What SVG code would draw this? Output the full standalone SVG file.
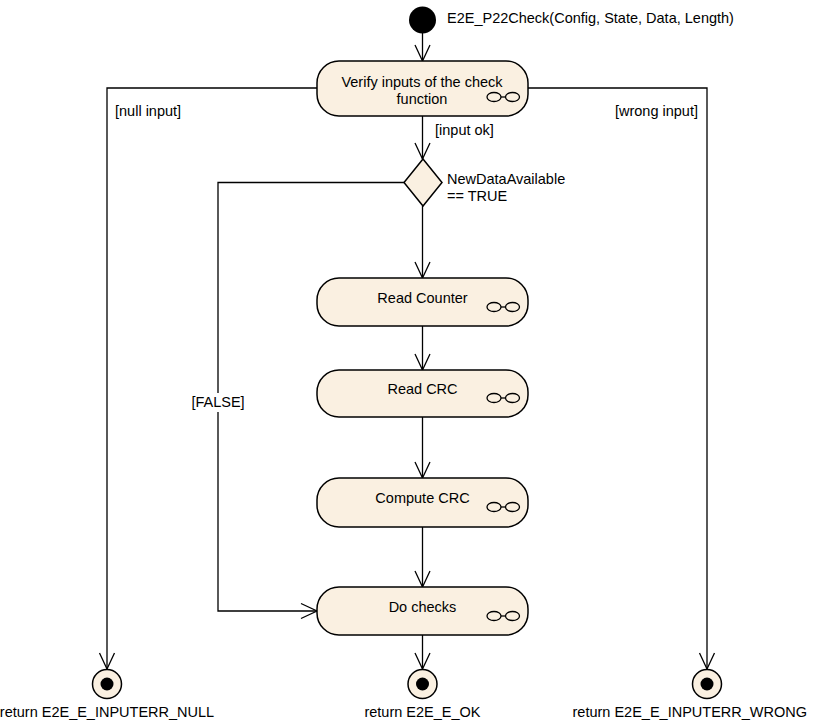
<svg xmlns="http://www.w3.org/2000/svg" width="814" height="722" viewBox="0 0 814 722">
<defs>
<style>
text{font-family:"Liberation Sans",Arial,sans-serif;font-size:14.5px;fill:#000}
.mid{text-anchor:middle}
.act{fill:#FAF0E1;stroke:#000;stroke-width:1.5}
.ico{fill:none;stroke:#000;stroke-width:1.3}
.edge{fill:none;stroke:#000;stroke-width:1.3}
</style>
<marker id="arr" viewBox="-17 -9 19 18" refX="0" refY="0" markerWidth="19" markerHeight="18" markerUnits="userSpaceOnUse" orient="auto">
<path d="M-16,-7.5 L0,0 L-16,7.5" fill="none" stroke="#000" stroke-width="1.3"/>
</marker>
<g id="rake">
<ellipse cx="-9" cy="0" rx="7" ry="4.5" class="ico"/>
<ellipse cx="9.5" cy="0" rx="7" ry="4.5" class="ico"/>
<line x1="-2" y1="0" x2="2.5" y2="0" class="ico"/>
</g>
</defs>
<rect width="814" height="722" fill="#fff"/>

<g id="connectors">
<line class="edge" x1="422.5" y1="33" x2="422.5" y2="61" marker-end="url(#arr)"/>
<polyline class="edge" points="317,88 107,88 107,669" marker-end="url(#arr)"/>
<polyline class="edge" points="528,88 707,88 707,669" marker-end="url(#arr)"/>
<line class="edge" x1="422.5" y1="116" x2="422.5" y2="159" marker-end="url(#arr)"/>
<polyline class="edge" points="404,182.5 218,182.5 218,611 317,611" marker-end="url(#arr)"/>
<line class="edge" x1="422.5" y1="206" x2="422.5" y2="278" marker-end="url(#arr)"/>
<line class="edge" x1="422.5" y1="326" x2="422.5" y2="370" marker-end="url(#arr)"/>
<line class="edge" x1="422.5" y1="417" x2="422.5" y2="478" marker-end="url(#arr)"/>
<line class="edge" x1="422.5" y1="527" x2="422.5" y2="587" marker-end="url(#arr)"/>
<line class="edge" x1="422.5" y1="635" x2="422.5" y2="669" marker-end="url(#arr)"/>
<text x="115" y="116">[null input]</text>
<text x="698" y="116" text-anchor="end">[wrong input]</text>
<text x="435" y="135">[input ok]</text>
<rect x="189" y="393" width="58" height="19" fill="#fff"/>
<text x="218" y="407" class="mid">[FALSE]</text>
</g>

<g id="start">
<circle cx="422.5" cy="20" r="13.5" fill="#000"/>
<text x="447" y="23">E2E_P22Check(Config, State, Data, Length)</text>
</g>

<g id="verify">
<rect class="act" x="317" y="61" width="211" height="55" rx="22" ry="22"/>
<text x="422" y="87" class="mid">Verify inputs of the check</text>
<text x="422" y="104" class="mid">function</text>
<use href="#rake" x="503" y="97"/>
</g>

<g id="decision">
<polygon class="act" points="423,159 442,182.5 423,206 404,182.5"/>
<text x="447" y="184">NewDataAvailable</text>
<text x="447" y="201">== TRUE</text>
</g>

<g id="readCounter">
<rect class="act" x="317" y="278" width="211" height="48" rx="22" ry="22"/>
<text x="422.5" y="303" class="mid">Read Counter</text>
<use href="#rake" x="503" y="307"/>
</g>

<g id="readCRC">
<rect class="act" x="317" y="370" width="211" height="47" rx="22" ry="22"/>
<text x="422.5" y="394" class="mid">Read CRC</text>
<use href="#rake" x="503" y="398"/>
</g>

<g id="computeCRC">
<rect class="act" x="317" y="478" width="211" height="49" rx="22" ry="22"/>
<text x="422.5" y="503" class="mid">Compute CRC</text>
<use href="#rake" x="503" y="507"/>
</g>

<g id="doChecks">
<rect class="act" x="317" y="587" width="211" height="48" rx="22" ry="22"/>
<text x="422.5" y="612" class="mid">Do checks</text>
<use href="#rake" x="503" y="616"/>
</g>

<g id="endNull">
<circle cx="107" cy="684" r="14.5" class="act"/>
<circle cx="107" cy="684" r="6.5" fill="#000"/>
<text x="107" y="717" class="mid">return E2E_E_INPUTERR_NULL</text>
</g>

<g id="endOk">
<circle cx="422.5" cy="684" r="14.5" class="act"/>
<circle cx="422.5" cy="684" r="6.5" fill="#000"/>
<text x="422.5" y="717" class="mid">return E2E_E_OK</text>
</g>

<g id="endWrong">
<circle cx="707" cy="684" r="14.5" class="act"/>
<circle cx="707" cy="684" r="6.5" fill="#000"/>
<text x="807" y="717" text-anchor="end">return E2E_E_INPUTERR_WRONG</text>
</g>
</svg>
